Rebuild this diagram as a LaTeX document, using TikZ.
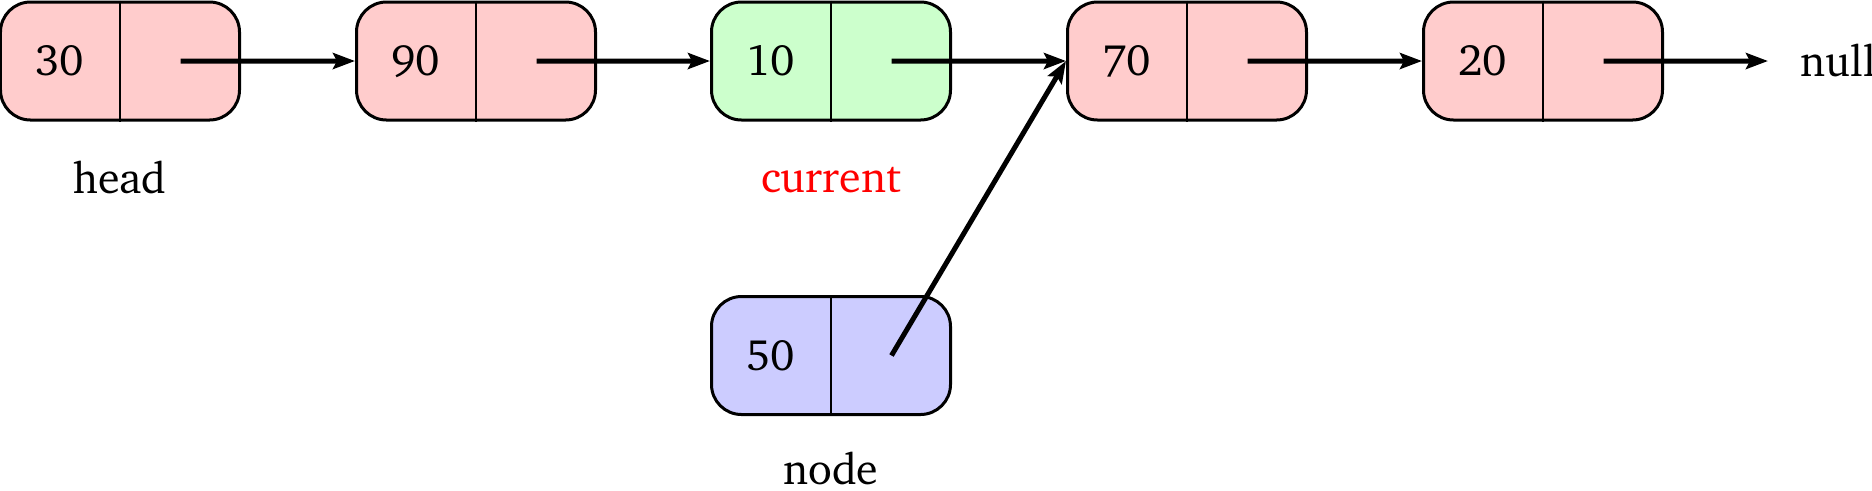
\documentclass[tikz,border=0pt]{standalone}
\usepackage[T1]{fontenc}
\usepackage{charter}
\usepackage{tikz}
\usetikzlibrary{positioning}
\usetikzlibrary{shapes.multipart}
\usetikzlibrary{arrows.meta}
\usetikzlibrary{calc}
\usepackage{xcolor}

\tikzset{
cell/.style={rectangle split, rectangle split horizontal, rectangle split parts=2,
  rectangle split draw splits=false, draw=black, line width=0.3mm,
  rounded corners=0.3cm, minimum height=1.18cm, text width=0.98cm,
  inner xsep=0.1cm, align=center, font=\fontsize{12.5}{15}\selectfont},
link/.style={-{Stealth[length=2.2mm,width=1.6mm,inset=0.4mm]}, line width=0.5mm},
tag/.style={anchor=base, font=\fontsize{12.5}{15}\selectfont}
}

\begin{document}
\begin{tikzpicture}

\useasboundingbox (0,0) rectangle (18.72,-4.9);

% list cells
{
\node[cell, fill=red!20] (c30) at (1.20,-0.61) {30 \nodepart{two} \mbox{}};
\node[cell, fill=red!20] (c90) at (4.76,-0.61) {90 \nodepart{two} \mbox{}};
\node[cell, fill=green!20] (c10) at (8.31,-0.61) {10 \nodepart{two} \mbox{}};
\node[cell, fill=red!20] (c70) at (11.87,-0.61) {70 \nodepart{two} \mbox{}};
\node[cell, fill=red!20] (c20) at (15.43,-0.61) {20 \nodepart{two} \mbox{}};

\node[cell, fill=blue!20] (c50) at (8.31,-3.555) {50 \nodepart{two} \mbox{}};
}

% dividers
\foreach \c in {c30,c90,c10,c70,c20,c50}{
\draw[black, line width=0.15mm] (\c.one split north)--(\c.one split south);
\coordinate (\c-ptr) at ($(\c.one split north)!0.5!(\c.south east)$);
}

% labels
{
\node[tag] (head) at (1.20,-1.93) {head};
\node[tag, red] (current) at (8.31,-1.92) {current};
\node[tag] (newnode) at (8.31,-4.84) {node};
\node[tag, anchor=west, inner xsep=0.32cm] (null) at (17.68,-0.61) {null};
}

% pointers
\draw[link] (c30-ptr)--(c90.west);
\draw[link] (c90-ptr)--(c10.west);
\draw[link] (c10-ptr)--(c70.west);
\draw[link] (c70-ptr)--(c20.west);
\draw[link] (c20-ptr)--(null.west);
\draw[link] (c50-ptr)--(c70.west);

\end{tikzpicture}
\end{document}
